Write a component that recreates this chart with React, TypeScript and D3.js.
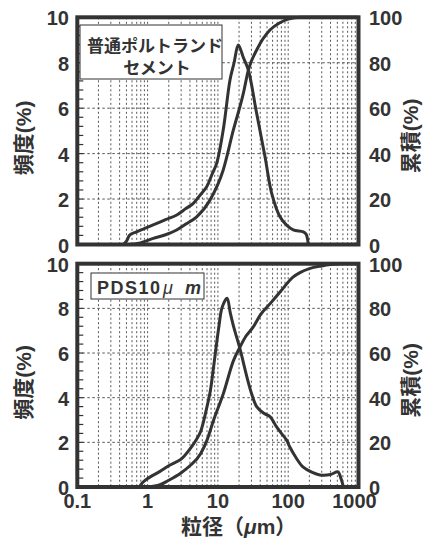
import React from "react";
import * as d3 from "d3";

// ---- data ----
const topFreqSize = [0.45, 0.5, 0.56, 0.7, 0.9, 1.2, 1.8, 2.6, 3.5, 4.47, 5.6, 6.93, 8.2, 9.6, 11.9, 14.86, 17, 19.5, 23, 27.1, 35.6, 46.8, 58.2, 76.4, 95, 118, 164, 180, 193];
const topFreqValue = [0, 0.15, 0.42, 0.56, 0.7, 0.86, 1.09, 1.3, 1.58, 1.81, 2.18, 2.54, 3.07, 3.57, 5.04, 7.24, 8.0, 8.78, 8.23, 7.68, 5.77, 3.86, 2.25, 1.22, 0.85, 0.64, 0.56, 0.45, 0];
const topCumSize = [0.56, 0.75, 1.205, 1.8, 2.59, 3.5, 4.99, 7.73, 11.9, 16.6, 23, 27.1, 35.6, 55, 75, 100, 150, 200, 1000];
const topCumValue = [0, 0.6, 2.7, 4.3, 6.4, 9, 12.2, 19.6, 32.8, 50.4, 66.5, 76.8, 85.6, 94.4, 97.5, 99.2, 100, 100, 100];

const botFreqSize = [0.76, 0.85, 1.0, 1.5, 2.0, 3.0, 4.0, 5.0, 5.7, 7.0, 7.8, 8.7, 10.3, 11.5, 13.5, 15, 17, 20.4, 26, 30, 35.6, 45, 55, 68, 80, 95, 105, 130, 162, 220, 282, 400, 510, 560, 610];
const botFreqValue = [0, 0.2, 0.38, 0.7, 0.95, 1.25, 1.7, 2.15, 2.5, 3.6, 4.3, 5.4, 7.15, 8.05, 8.45, 7.8, 7.1, 6.24, 4.9, 4.2, 3.6, 3.3, 3.15, 2.7, 2.4, 2.1, 1.8, 1.3, 0.9, 0.65, 0.54, 0.56, 0.68, 0.4, 0];
const botCumSize = [1.0, 1.5, 1.94, 2.95, 4.0, 5.7, 7.0, 8.7, 12, 16.7, 20.4, 25, 31.7, 40, 55, 76, 117, 147, 200, 300, 400, 600, 1000];
const botCumValue = [0, 1.0, 2.8, 6.2, 9.5, 15, 21, 30, 42, 56.7, 62.4, 67.5, 71.6, 77, 82, 87.2, 94, 96, 97.8, 99, 99.6, 100, 100];

const xTickValues = [0.1, 1, 10, 100, 1000];
const xTickLabels = ["0.1", "1", "10", "100", "1000"];
const leftTicks = [0, 2, 4, 6, 8, 10];
const rightTicks = [0, 20, 40, 60, 80, 100];
const gridFreq = [2, 4, 6, 8];

const topLabelLines = ["普通ポルトランド", "セメント"];
const leftTitle = "頻度(%)";
const rightTitle = "累積(%)";

const INK = "#333";
const FONT = "'Liberation Sans', Arial, 'Noto Sans CJK JP', sans-serif";

const X0 = 77.3, X1 = 358.5;
const x = d3.scaleLog().domain([0.1, 1000]).range([X0, X1]);

const vGrid: number[] = [];
for (let e = -1; e <= 2; e++) {
  for (let k = 1; k <= 9; k++) {
    const v = k * Math.pow(10, e);
    if (v > 0.1 + 1e-9) vGrid.push(v);
  }
}
const minorTicks = d3.range(0, 10.01, 0.4);

function zip(s: number[], v: number[]) {
  return s.map((d, i) => [d, v[i]] as [number, number]);
}

function Panel({ y0, y1, freqS, freqV, cumS, cumV, showX, label }: any) {
  const yL = d3.scaleLinear().domain([0, 10]).range([y1, y0]);
  const yR = d3.scaleLinear().domain([0, 100]).range([y1, y0]);
  const freqLine = d3.line<[number, number]>().x(d => x(d[0])).y(d => yL(d[1])).curve(d3.curveCatmullRom.alpha(0.5));
  const cumLine = d3.line<[number, number]>().x(d => x(d[0])).y(d => yR(d[1])).curve(d3.curveMonotoneX);
  const midY = (y0 + y1) / 2;
  return (
    <g>
      {vGrid.map((v, i) => (
        <line key={"v" + i} x1={x(v)} x2={x(v)} y1={y0} y2={y1} stroke="#555" strokeWidth={1} strokeDasharray="2,2.5" />
      ))}
      {gridFreq.map((v, i) => (
        <line key={"h" + i} x1={X0} x2={X1} y1={yL(v)} y2={yL(v)} stroke="#555" strokeWidth={1} strokeDasharray="2.5,2.5" />
      ))}
      {minorTicks.map((v, i) => (
        <line key={"m" + i} x1={X0} x2={X0 + 6} y1={yL(v)} y2={yL(v)} stroke={INK} strokeWidth={1.2} />
      ))}
      {label}
      <path d={freqLine(zip(freqS, freqV)) || ""} fill="none" stroke={INK} strokeWidth={3} strokeLinejoin="round" />
      <path d={cumLine(zip(cumS, cumV)) || ""} fill="none" stroke={INK} strokeWidth={3} strokeLinejoin="round" />
      <rect x={X0} y={y0} width={X1 - X0} height={y1 - y0} fill="none" stroke="#333" strokeWidth={4} />
      {leftTicks.map((v, i) => (
        <text key={"l" + i} x={69} y={yL(v) + 8} textAnchor="end" fontSize={20} fontWeight="bold" fill={INK}>{v}</text>
      ))}
      {rightTicks.map((v, i) => (
        <text key={"r" + i} x={369} y={yR(v) + 8} textAnchor="start" fontSize={20} fontWeight="bold" fill={INK}>{v}</text>
      ))}
      <text transform={`translate(23,${midY + 7}) rotate(-90)`} textAnchor="middle" dominantBaseline="central" fontSize={21} fontWeight="bold" fill={INK}>{leftTitle}</text>
      <text transform={`translate(410,${midY + 5}) rotate(-90)`} textAnchor="middle" dominantBaseline="central" fontSize={21} fontWeight="bold" fill={INK}>{rightTitle}</text>
      {showX && xTickValues.map((v, i) => (
        <text key={"x" + i} x={x(v) + (i === 4 ? -4 : 0)} y={508} textAnchor="middle" fontSize={20} fontWeight="bold" fill={INK}>{xTickLabels[i]}</text>
      ))}
    </g>
  );
}

export default function App() {
  const topLabel = (
    <g>
      <rect x={80} y={25} width={142} height={54} fill="#fff" stroke={INK} strokeWidth={1} />
      <text x={155} y={52} textAnchor="middle" fontSize={17} fontWeight="bold" fill={INK}>{topLabelLines[0]}</text>
      <text x={157} y={74} textAnchor="middle" fontSize={17} fontWeight="bold" fill={INK}>{topLabelLines[1]}</text>
    </g>
  );
  const botLabel = (
    <g>
      <rect x={91} y={273} width={113} height={26} fill="#fff" stroke={INK} strokeWidth={1} />
      <text x={97} y={294} fontSize={18} fontWeight="bold" fill={INK} letterSpacing={1.5}>
        PDS10
        <tspan x={163} fontStyle="italic" fontWeight="normal">μ</tspan>
        <tspan x={185} fontStyle="italic">m</tspan>
      </text>
    </g>
  );
  return (
    <svg width={423} height={538} style={{ position: "absolute", left: 0, top: 0, background: "#fff" }} fontFamily={FONT}>
      <rect x={0} y={0} width={423} height={538} fill="#fff" />
      <Panel y0={17.3} y1={244.5} freqS={topFreqSize} freqV={topFreqValue} cumS={topCumSize} cumV={topCumValue} showX={false} label={topLabel} />
      <Panel y0={263.7} y1={487} freqS={botFreqSize} freqV={botFreqValue} cumS={botCumSize} cumV={botCumValue} showX={true} label={botLabel} />
      <text x={181} y={534} fontSize={21} fontWeight="bold" fill={INK}>
        粒径（<tspan fontStyle="italic">μ</tspan>m）
      </text>
    </svg>
  );
}
